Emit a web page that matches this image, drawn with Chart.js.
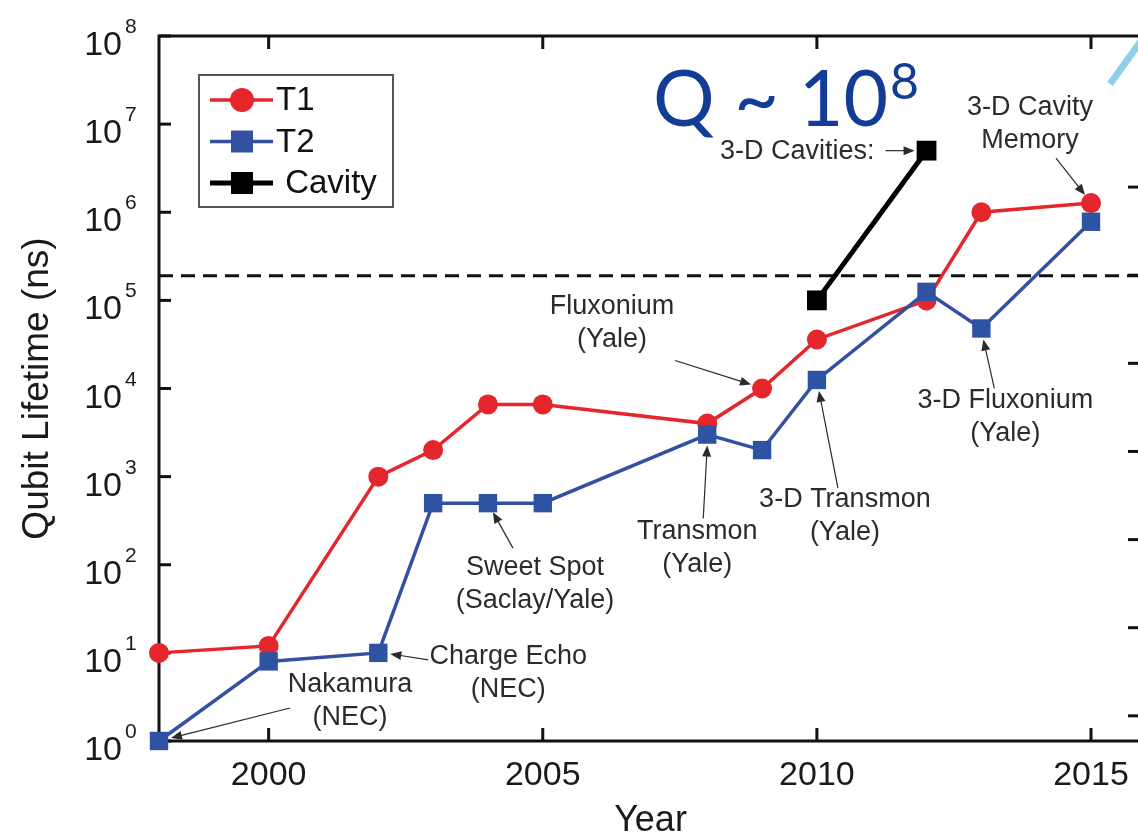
<!DOCTYPE html>
<html>
<head>
<meta charset="utf-8">
<title>Qubit Lifetime</title>
<script src="https://cdn.jsdelivr.net/npm/chart.js@4.4.1/dist/chart.umd.min.js"></script>
<style>
  html, body { margin: 0; padding: 0; background: #fff; overflow: hidden; }
  .chart-wrap { position: relative; width: 1156px; height: 839px; }
</style>
</head>
<body>
<div class="chart-wrap"><canvas id="lifetimeChart" width="1156" height="839"></canvas></div>
<script>
// --- Values ---
const years = [1998, 2000, 2002, 2003, 2004, 2005, 2008, 2009, 2010, 2012, 2013, 2015];
const t1Values = [10, 12, 1000, 2000, 6600, 6600, 4000, 10000, 36000, 100000, 1000000, 1270000];
const t2Values = [1, 8, 10, 500, 500, 500, 3000, 2000, 12500, 125000, 48000, 780000];
const cavityYears = [2010, 2012];
const cavityValues = [100000, 5000000];
const thresholdValue = 190000;   // dashed line
const xTickYears = [2000, 2005, 2010, 2015];
const yTickExponents = [0, 1, 2, 3, 4, 5, 6, 7, 8];
const xMin = 1998;
const xMax = 2015.93;            // right edge is cut off in the original

// labels with arrows: which point they point at, and pixel offsets from it
const notes = [
    { series: 'T2', year: 1998, lines: ['Nakamura', '(NEC)'], label: [191, -56], from: [131, -33], to: [12, -3] },
    { series: 'T2', year: 2002, lines: ['Charge Echo', '(NEC)'], label: [130, 4], from: [50, 7], to: [12, 1] },
    { series: 'T2', year: 2004, lines: ['Sweet Spot', '(Saclay/Yale)'], label: [47, 64], from: [25, 45], to: [5, 9] },
    { series: 'T2', year: 2008, lines: ['Transmon', '(Yale)'], label: [-10, 97], from: [-4, 84], to: [0, 11] },
    { series: 'T2', year: 2010, lines: ['3-D Transmon', '(Yale)'], label: [28, 120], from: [21, 108], to: [2, 11] },
    { series: 'T1', year: 2009, lines: ['Fluxonium', '(Yale)'], label: [-150, -82], from: [-87, -28], to: [-11, -4] },
    { series: 'T2', year: 2013, lines: ['3-D Fluxonium', '(Yale)'], label: [24, 72], from: [13, 60], to: [2, 11] },
    { series: 'T1', year: 2015, lines: ['3-D Cavity', 'Memory'], label: [-61, -96], from: [-35, -45], to: [-6, -8] }
];

const RED = '#e5262c';
const BLUE = '#3251a2';
const FONT = "'Liberation Sans', Arial, Helvetica, sans-serif";

function toPoints(xs, ys) {
    return xs.map((x, i) => ({ x: x, y: ys[i] }));
}

function arrow(ctx, x0, y0, x1, y1) {
    const ang = Math.atan2(y1 - y0, x1 - x0);
    const head = 11, half = 4.5;
    ctx.beginPath();
    ctx.moveTo(x0, y0);
    ctx.lineTo(x1 - Math.cos(ang) * head * 0.8, y1 - Math.sin(ang) * head * 0.8);
    ctx.stroke();
    ctx.beginPath();
    ctx.moveTo(x1, y1);
    ctx.lineTo(x1 - head * Math.cos(ang) + half * Math.sin(ang), y1 - head * Math.sin(ang) - half * Math.cos(ang));
    ctx.lineTo(x1 - head * Math.cos(ang) - half * Math.sin(ang), y1 - head * Math.sin(ang) + half * Math.cos(ang));
    ctx.closePath();
    ctx.fill();
}

function line(ctx, x0, y0, x1, y1) {
    ctx.beginPath();
    ctx.moveTo(x0, y0);
    ctx.lineTo(x1, y1);
    ctx.stroke();
}

// frame + inward ticks, drawn under the data like the original
const framePlugin = {
    id: 'frame',
    beforeDatasetsDraw(chart) {
        const { ctx, chartArea: a, scales: { x, y } } = chart;
        ctx.save();
        ctx.strokeStyle = '#111';
        ctx.lineWidth = 3;
        ctx.strokeRect(a.left, a.top, a.right - a.left, a.bottom - a.top);
        xTickYears.forEach(yr => {
            const px = x.getPixelForValue(yr);
            line(ctx, px, a.bottom, px, a.bottom - 13);
            line(ctx, px, a.top, px, a.top + 13);
        });
        yTickExponents.forEach(e => {
            const py = y.getPixelForValue(Math.pow(10, e));
            line(ctx, a.left, py, a.left + 12, py);
        });
        // the short marks on the (cut off) right side of the original
        yTickExponents.slice(0, 7).forEach(e => {
            const py = y.getPixelForValue(1.93 * Math.pow(10, e));
            line(ctx, a.right - 14, py, a.right, py);
        });
        ctx.restore();
    }
};

const decorPlugin = {
    id: 'decor',
    afterDraw(chart) {
        const { ctx, chartArea: a, scales: { x, y } } = chart;
        ctx.save();

        // --- y tick labels as 10^n ---
        ctx.fillStyle = '#1a1a1a';
        yTickExponents.forEach(e => {
            const py = y.getPixelForValue(Math.pow(10, e));
            ctx.font = '34px ' + FONT;
            ctx.textAlign = 'right';
            ctx.textBaseline = 'alphabetic';
            ctx.fillText('10', a.left - 37, py + 19);
            ctx.font = '21px ' + FONT;
            ctx.textAlign = 'left';
            ctx.fillText(String(e), a.left - 34, py - 3);
        });

        // --- legend box ---
        const lx = a.left + 40, ly = a.top + 39;
        ctx.strokeStyle = '#555';
        ctx.lineWidth = 2;
        ctx.strokeRect(lx, ly, 194, 132);
        const items = [
            { text: 'T1', color: RED, shape: 'circle', lw: 3.5 },
            { text: 'T2', color: BLUE, shape: 'rect', lw: 3.5 },
            { text: ' Cavity', color: '#000', shape: 'rect', lw: 5 }
        ];
        items.forEach((it, i) => {
            const cy = ly + 25 + i * 41.5;
            ctx.strokeStyle = it.color;
            ctx.fillStyle = it.color;
            ctx.lineWidth = it.lw;
            line(ctx, lx + 11, cy, lx + 74, cy);
            if (it.shape === 'circle') {
                ctx.beginPath();
                ctx.arc(lx + 43, cy, 12, 0, Math.PI * 2);
                ctx.fill();
            } else {
                ctx.fillRect(lx + 32, cy - 11, 22, 22);
            }
            ctx.fillStyle = '#111';
            ctx.font = '33px ' + FONT;
            ctx.textAlign = 'left';
            ctx.textBaseline = 'middle';
            ctx.fillText(it.text, lx + 77, cy + 1);
        });

        // --- annotations ---
        ctx.fillStyle = '#2b2b2b';
        ctx.strokeStyle = '#2b2b2b';
        ctx.lineWidth = 1.2;
        ctx.font = '27px ' + FONT;
        ctx.textAlign = 'center';
        ctx.textBaseline = 'middle';
        notes.forEach(n => {
            const vals = n.series === 'T1' ? t1Values : t2Values;
            const v = vals[years.indexOf(n.year)];
            const px = x.getPixelForValue(n.year);
            const py = y.getPixelForValue(v);
            n.lines.forEach((t, i) => ctx.fillText(t, px + n.label[0], py + n.label[1] + i * 33));
            arrow(ctx, px + n.from[0], py + n.from[1], px + n.to[0], py + n.to[1]);
        });
        // "3-D Cavities:" sits left of the top cavity point
        const cx = x.getPixelForValue(cavityYears[1]);
        const cy = y.getPixelForValue(cavityValues[1]);
        ctx.textAlign = 'right';
        ctx.fillText('3-D Cavities:', cx - 52, cy + 1);
        arrow(ctx, cx - 41, cy, cx - 12, cy);

        // --- slide overlay: Q ~ 10^8 ---
        ctx.fillStyle = '#123c96';
        ctx.textAlign = 'left';
        ctx.textBaseline = 'alphabetic';
        ctx.font = '77px Lato, ' + FONT;
        ctx.fillText('Q ~ 10', 653, 126);
        const w = ctx.measureText('Q ~ 10').width;
        ctx.font = '50px Lato, ' + FONT;
        ctx.fillText('8', 653 + w + 2, 99);

        // light blue stroke in the top right corner of the slide
        ctx.strokeStyle = '#8fd0e8';
        ctx.lineWidth = 7;
        line(ctx, a.right - 32, 84, a.right + 4, 34);

        ctx.restore();
    }
};

document.addEventListener('DOMContentLoaded', function() {
    Chart.defaults.font.family = FONT;
    const ctx = document.getElementById('lifetimeChart');

    // note: the 14px point overflow keeps the plot's right edge at 1142,
    // just past the visible window, so the frame's right side is cut off
    new Chart(ctx, {
        type: 'line',
        data: {
            datasets: [
                {
                    label: 'Cavity',
                    data: toPoints(cavityYears, cavityValues),
                    borderColor: '#000', backgroundColor: '#000',
                    borderWidth: 5, pointStyle: 'rect', pointRadius: 14, pointBorderWidth: 0,
                    order: 0, clip: false
                },
                {
                    label: 'T2',
                    data: toPoints(years, t2Values),
                    borderColor: BLUE, backgroundColor: '#2e53a3',
                    borderWidth: 3.5, pointStyle: 'rect', pointRadius: 13, pointBorderWidth: 0,
                    order: 1, clip: false
                },
                {
                    label: 'T1',
                    data: toPoints(years, t1Values),
                    borderColor: RED, backgroundColor: RED,
                    borderWidth: 3.5, pointStyle: 'circle', pointRadius: 10, pointBorderWidth: 0,
                    order: 2, clip: false
                },
                {
                    label: 'limit',
                    data: [{ x: xMin, y: thresholdValue }, { x: xMax, y: thresholdValue }],
                    borderColor: '#111', borderWidth: 3, borderDash: [14, 8],
                    pointRadius: 0, order: 3
                }
            ]
        },
        options: {
            responsive: false,
            animation: false,
            layout: { padding: { top: 36, right: 0, left: 0, bottom: 0 } },
            plugins: { legend: { display: false }, tooltip: { enabled: false } },
            scales: {
                x: {
                    type: 'linear', min: xMin, max: xMax,
                    afterBuildTicks: s => { s.ticks = xTickYears.map(v => ({ value: v })); },
                    afterFit: s => { s.height = 98; },
                    grid: { display: false, drawTicks: true, tickLength: 14 },
                    border: { display: false },
                    ticks: { font: { size: 34 }, color: '#1a1a1a', padding: 0,
                             maxRotation: 0, autoSkip: false, callback: v => String(v) },
                    title: { display: true, text: 'Year', color: '#1a1a1a',
                             font: { size: 36, lineHeight: 1 }, padding: { top: 0, bottom: 0 } }
                },
                y: {
                    type: 'logarithmic', min: 1, max: 1e8,
                    afterBuildTicks: s => { s.ticks = yTickExponents.map(e => ({ value: Math.pow(10, e) })); },
                    afterFit: s => { s.width = 159; },
                    grid: { display: false, drawTicks: false },
                    border: { display: false },
                    ticks: { display: false, padding: 0 },
                    title: { display: true, text: 'Qubit Lifetime (ns)', color: '#1a1a1a',
                             font: { size: 37, lineHeight: 1 }, padding: { top: 19, bottom: 0 } }
                }
            }
        },
        plugins: [framePlugin, decorPlugin]
    });
});
</script>
</body>
</html>
